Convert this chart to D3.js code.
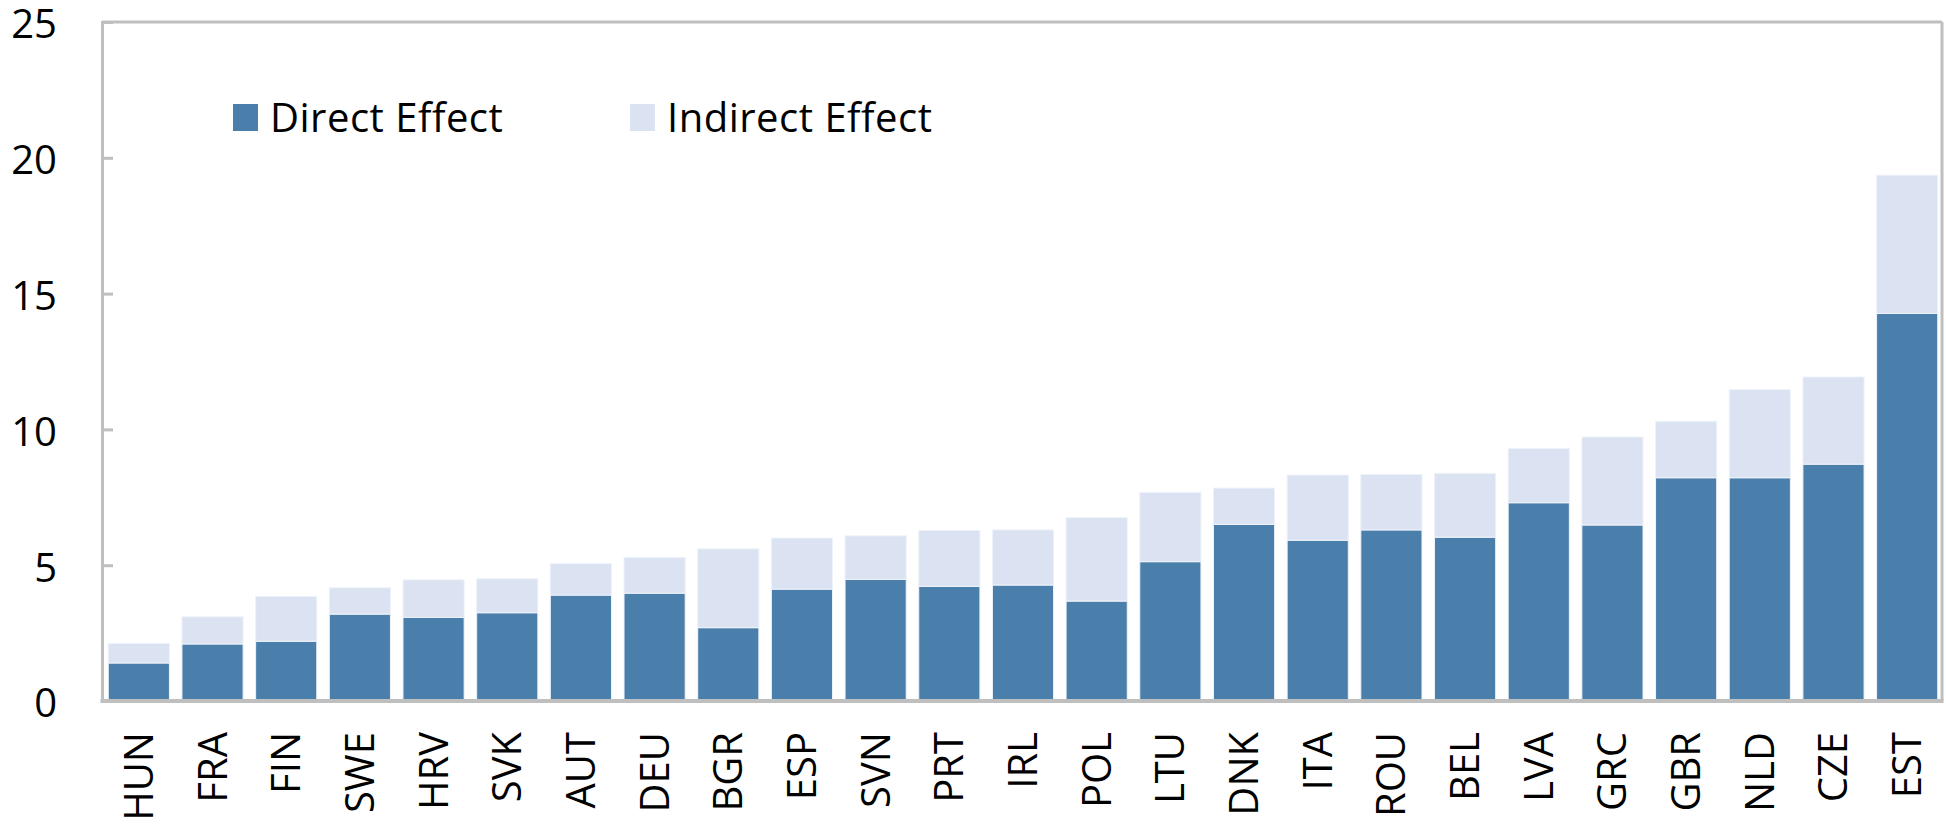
<!DOCTYPE html>
<html>
<head>
<meta charset="utf-8">
<script src="https://cdn.jsdelivr.net/npm/d3@7"></script>
<style>
  html, body { margin: 0; padding: 0; background: #fff; }
  svg { display: block; }
  text { font-family: "Open Sans", "Noto Sans", sans-serif; fill: #000; }
</style>
</head>
<body>
<svg id="chart" width="1946" height="827"></svg>
<script>
const categories = ["HUN","FRA","FIN","SWE","HRV","SVK","AUT","DEU","BGR","ESP","SVN","PRT","IRL","POL","LTU","DNK","ITA","ROU","BEL","LVA","GRC","GBR","NLD","CZE","EST"];
const directEffect = [1.40,2.10,2.20,3.20,3.08,3.25,3.90,3.97,2.70,4.12,4.48,4.22,4.27,3.68,5.13,6.50,5.92,6.30,6.03,7.30,6.48,8.22,8.22,8.72,14.27];
const indirectEffect = [0.72,1.00,1.65,0.97,1.38,1.25,1.16,1.32,2.90,1.88,1.60,2.06,2.03,3.07,2.55,1.34,2.40,2.04,2.35,2.00,3.24,2.08,3.25,3.21,5.09];
const yTicks = [0,5,10,15,20,25];
const seriesNames = ["Direct Effect","Indirect Effect"];
const colors = ["#4a7fac","#dbe2f1"];

const svg = d3.select("#chart");
const mLeft = 102, mRight = 1942, mTop = 22, mBottom = 701;

const x = d3.scaleBand().domain(categories).range([mLeft, mRight + 2]).paddingInner(0.17).paddingOuter(0.085);
const y = d3.scaleLinear().domain([0, 25]).range([mBottom, mTop]);

const rows = categories.map((c, i) => ({cat: c, "Direct Effect": directEffect[i], "Indirect Effect": indirectEffect[i]}));
const stacked = d3.stack().keys(seriesNames)(rows);

svg.append("g").selectAll("g").data(stacked).join("g")
  .attr("fill", (d, i) => colors[i])
  .selectAll("rect").data(d => d).join("rect")
  .attr("x", d => x(d.data.cat))
  .attr("width", x.bandwidth())
  .attr("y", d => y(d[1]))
  .attr("height", d => y(d[0]) - y(d[1]))
  .attr("stroke", "#eef2fa")
  .attr("stroke-width", 1);

// frame: top and right
svg.append("line").attr("x1", mLeft).attr("x2", mRight).attr("y1", mTop).attr("y2", mTop)
  .attr("stroke", "#bfbfbf").attr("stroke-width", 3);
svg.append("line").attr("x1", mRight).attr("x2", mRight).attr("y1", mTop).attr("y2", mBottom)
  .attr("stroke", "#bfbfbf").attr("stroke-width", 3);

// left axis
const yAxis = d3.axisRight(y).tickValues(yTicks).tickSize(11).tickFormat("");
const gy = svg.append("g").attr("transform", `translate(${mLeft},0)`).call(yAxis);
gy.select(".domain").attr("stroke", "#bfbfbf").attr("stroke-width", 3);
gy.selectAll(".tick line").attr("stroke", "#bfbfbf").attr("stroke-width", 3);
gy.selectAll(".tick").filter(d => d === 0 || d === 25).remove();

svg.append("g").selectAll("text").data(yTicks).join("text")
  .attr("x", 57).attr("y", d => y(d)).attr("dy", "0.41em")
  .attr("text-anchor", "end").attr("font-size", 40).text(d => d);

// bottom axis line
svg.append("line").attr("x1", mLeft - 1.5).attr("x2", mRight + 1.5).attr("y1", mBottom).attr("y2", mBottom)
  .attr("stroke", "#bfbfbf").attr("stroke-width", 4);

// x labels
svg.append("g").selectAll("text").data(categories).join("text")
  .attr("transform", d => `translate(${x(d) + x.bandwidth() / 2 + 14},732) rotate(-90)`)
  .attr("text-anchor", "end").attr("font-size", 40).text(d => d);

// legend
const legendX = [233, 630];
const lg = svg.append("g").selectAll("g").data(seriesNames).join("g")
  .attr("transform", (d, i) => `translate(${legendX[i]},104)`);
lg.append("rect").attr("width", 25).attr("height", 27).attr("fill", (d, i) => colors[i]);
lg.append("text").attr("x", 37).attr("y", 28).attr("font-size", 40).attr("letter-spacing", 0.5).text(d => d);
</script>
</body>
</html>
